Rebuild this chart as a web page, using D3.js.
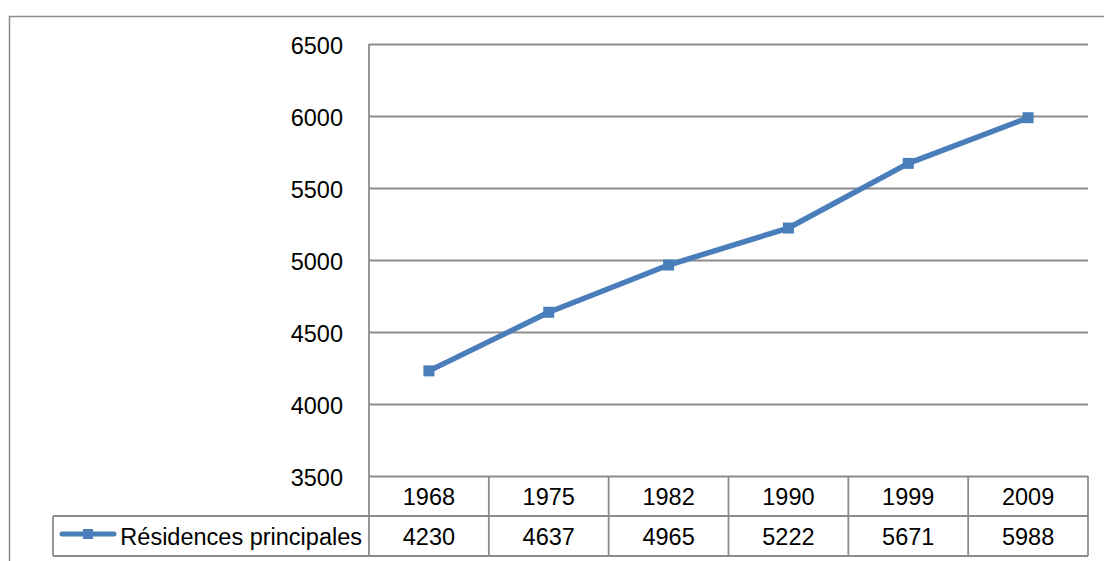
<!DOCTYPE html>
<html>
<head>
<meta charset="utf-8">
<script src="https://cdn.jsdelivr.net/npm/d3@7"></script>
<style>
  html, body { margin: 0; padding: 0; background: #fff; }
  svg { display: block; font-family: "Liberation Sans", Arial, sans-serif; }
</style>
</head>
<body>
<svg id="chart" width="1104" height="561"></svg>
<script>
// Residences principales by census year
const years = ["1968", "1975", "1982", "1990", "1999", "2009"];
const residences = [4230, 4637, 4965, 5222, 5671, 5988];
const seriesName = "Résidences principales";
const yTicks = [3500, 4000, 4500, 5000, 5500, 6000, 6500];

const svg = d3.select("#chart");
const grey = "#8c8c8c";
const blue = "#4a7ebb";
const fontSize = 23.5;

const plot = { left: 369, right: 1088, top: 44, bottom: 476 };
const rowH = 40;            // height of each data-table row
const legendLeft = 53;

const x = d3.scaleBand().domain(years).range([plot.left, plot.right]).padding(0);
const y = d3.scaleLinear().domain([3500, 6500]).range([plot.bottom, plot.top]);

// outer chart frame
svg.append("path")
  .attr("d", `M9.5,561 V16.5 H1104`)
  .attr("fill", "none").attr("stroke", grey).attr("stroke-width", 1.5);

// value axis with horizontal gridlines
const yAxis = svg.append("g")
  .attr("transform", `translate(${plot.left},0)`)
  .call(d3.axisLeft(y).tickValues(yTicks).tickFormat(d3.format("d"))
    .tickSize(-(plot.right - plot.left)).tickPadding(26));
yAxis.select(".domain").remove();
yAxis.selectAll(".tick line").attr("stroke", grey).attr("stroke-width", 1.8);
yAxis.selectAll(".tick text")
  .attr("fill", "#000").attr("font-size", fontSize)
  .attr("font-family", "Liberation Sans, Arial, sans-serif")
  .attr("dy", "0.42em");

// vertical axis line, down through the data table
svg.append("line")
  .attr("x1", plot.left).attr("x2", plot.left)
  .attr("y1", plot.top).attr("y2", plot.bottom + 2 * rowH)
  .attr("stroke", grey).attr("stroke-width", 1.8);

// data table: column separators
const table = svg.append("g");
years.forEach(yr => {
  const xr = x(yr) + x.bandwidth();
  table.append("line")
    .attr("x1", xr).attr("x2", xr)
    .attr("y1", plot.bottom).attr("y2", plot.bottom + 2 * rowH)
    .attr("stroke", grey).attr("stroke-width", 1.8);
});
// row borders
table.append("line")
  .attr("x1", legendLeft).attr("x2", plot.right)
  .attr("y1", plot.bottom + rowH).attr("y2", plot.bottom + rowH)
  .attr("stroke", grey).attr("stroke-width", 1.8);
table.append("line")
  .attr("x1", legendLeft).attr("x2", plot.right)
  .attr("y1", plot.bottom + 2 * rowH).attr("y2", plot.bottom + 2 * rowH)
  .attr("stroke", grey).attr("stroke-width", 1.8);
table.append("line")
  .attr("x1", legendLeft).attr("x2", legendLeft)
  .attr("y1", plot.bottom + rowH).attr("y2", plot.bottom + 2 * rowH)
  .attr("stroke", grey).attr("stroke-width", 1.8);

// category labels
table.selectAll("text.year").data(years).join("text")
  .attr("class", "year")
  .attr("x", d => x(d) + x.bandwidth() / 2)
  .attr("y", plot.bottom + rowH / 2)
  .attr("dy", "0.38em")
  .attr("text-anchor", "middle").attr("font-size", fontSize)
  .text(d => d);

// values row
table.selectAll("text.val").data(residences).join("text")
  .attr("class", "val")
  .attr("x", (d, i) => x(years[i]) + x.bandwidth() / 2)
  .attr("y", plot.bottom + rowH * 1.5)
  .attr("dy", "0.38em")
  .attr("text-anchor", "middle").attr("font-size", fontSize)
  .text(d => d);

// legend key in the table
const ky = plot.bottom + rowH * 1.5 - 2;
table.append("line")
  .attr("x1", 62).attr("x2", 114).attr("y1", ky).attr("y2", ky)
  .attr("stroke", blue).attr("stroke-width", 5).attr("stroke-linecap", "round");
table.append("rect")
  .attr("x", 83).attr("y", ky - 5).attr("width", 10).attr("height", 10)
  .attr("fill", blue);
table.append("text")
  .attr("x", 362).attr("y", plot.bottom + rowH * 1.5)
  .attr("dy", "0.38em").attr("text-anchor", "end")
  .attr("font-size", fontSize)
  .text(seriesName);

// series line
const pts = years.map((yr, i) => [x(yr) + x.bandwidth() / 2, y(residences[i])]);
svg.append("path")
  .attr("d", d3.line()(pts))
  .attr("fill", "none").attr("stroke", blue).attr("stroke-width", 5.5)
  .attr("stroke-linejoin", "round").attr("stroke-linecap", "round");
svg.selectAll("rect.marker").data(pts).join("rect")
  .attr("class", "marker")
  .attr("x", d => d[0] - 5.5).attr("y", d => d[1] - 5.5)
  .attr("width", 11).attr("height", 11)
  .attr("fill", blue);
</script>
</body>
</html>
